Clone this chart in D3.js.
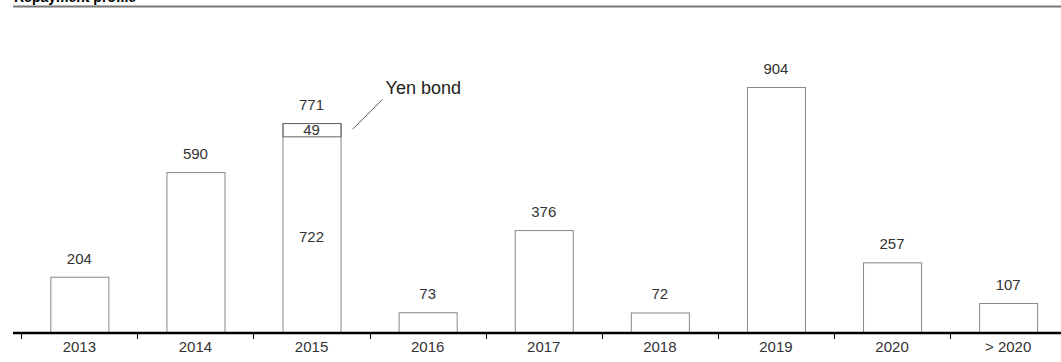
<!DOCTYPE html>
<html><head><meta charset="utf-8">
<script src="https://cdn.jsdelivr.net/npm/d3@7"></script>
<style>body{margin:0;background:#fff}svg{display:block}text{font-family:"Liberation Sans",Arial,sans-serif}</style>
</head><body><svg id="c" width="1061" height="362"></svg>
<script>
const categories = ["2013","2014","2015","2016","2017","2018","2019","2020","> 2020"];
const totals = [204,590,771,73,376,72,904,257,107];
const yenBond = [0,0,49,0,0,0,0,0,0];
const title = "Repayment profile";
const annotation = "Yen bond";

const svg = d3.select("#c");
const x = d3.scaleBand().domain(categories).range([21.3, 21.3 + 9*116.1]).paddingInner(0.5).paddingOuter(0.25);
const y = d3.scaleLinear().domain([0, 904]).range([332, 87]);
const FS = 15;

// title (cut off at top, as in the reference)
svg.append("text").attr("x", 14).attr("y", 1.5).attr("font-size", 14).attr("font-weight", "bold").attr("fill", "#000").text(title);
svg.append("line").attr("x1", 13).attr("x2", 1061).attr("y1", 6.5).attr("y2", 6.5).attr("stroke", "#777").attr("stroke-width", 2);

const g = svg.append("g");
categories.forEach((c, i) => {
  const x0 = x(c), w = x.bandwidth();
  const base = totals[i] - yenBond[i];
  g.append("rect").attr("x", x0 + 0.5).attr("y", y(totals[i]) + 0.5).attr("width", w).attr("height", y(0) - y(totals[i]))
    .attr("fill", "#fff").attr("stroke", "#888").attr("stroke-width", 1);
  if (yenBond[i] > 0) {
    g.append("rect").attr("x", x0 + 0.5).attr("y", y(totals[i]) + 0.5).attr("width", w).attr("height", y(base) - y(totals[i]))
      .attr("fill", "none").attr("stroke", "#666");
    g.append("text").attr("x", x0 + w/2).attr("y", (y(base) + y(totals[i]))/2 + 5.5).attr("text-anchor", "middle")
      .attr("font-size", FS).attr("fill", "#333").text(yenBond[i]);
    g.append("text").attr("x", x0 + w/2).attr("y", (y(base) + y(0))/2 + 8).attr("text-anchor", "middle")
      .attr("font-size", FS).attr("fill", "#333").text(base);
    g.append("line").attr("x1", x0 + w + 12).attr("y1", y(base) - 7).attr("x2", x0 + w + 42).attr("y2", y(base) - 37)
      .attr("stroke", "#333").attr("stroke-width", 0.8);
    g.append("text").attr("x", x0 + w + 45).attr("y", y(base) - 42).attr("font-size", 18).attr("fill", "#222").text(annotation);
  }
  g.append("text").attr("x", x0 + w/2).attr("y", y(totals[i]) - 13).attr("text-anchor", "middle")
    .attr("font-size", FS).attr("fill", "#333").text(totals[i]);
});

// axis
const ax = svg.append("g").attr("transform", "translate(0,332)")
  .call(d3.axisBottom(x).tickSize(0).tickPadding(9));
ax.select(".domain").remove();
ax.selectAll("text").attr("font-size", FS).attr("fill", "#333").attr("font-family", "Liberation Sans, Arial, sans-serif");
svg.append("line").attr("x1", 13).attr("x2", 1061).attr("y1", 333).attr("y2", 333).attr("stroke", "#000").attr("stroke-width", 2.5);
const starts = categories.map(c => x(c) - x.step() * x.paddingOuter());
svg.selectAll(".tk").data(starts).enter().append("line")
  .attr("x1", d => Math.round(d) + 0.5).attr("x2", d => Math.round(d) + 0.5).attr("y1", 333).attr("y2", 339)
  .attr("stroke", "#000").attr("stroke-width", 1);
</script></body></html>
